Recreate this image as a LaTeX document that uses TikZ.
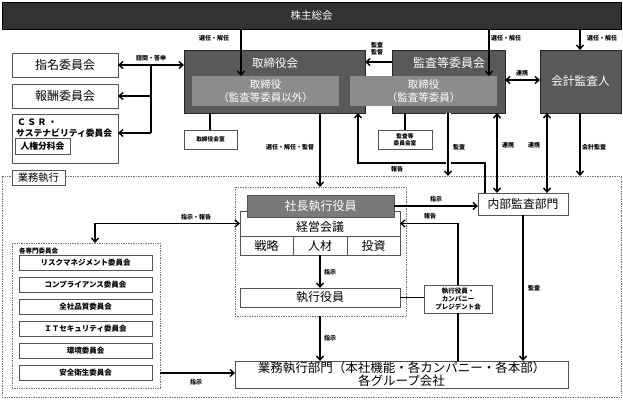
\documentclass[tikz,border=0pt]{standalone}
\usepackage{fontspec}
\setmainfont{Noto Sans CJK JP}
\usetikzlibrary{arrows.meta,calc}
\definecolor{topc}{HTML}{333333}
\definecolor{midc}{HTML}{595959}
\definecolor{ltc}{HTML}{8C8C8C}
\definecolor{prc}{HTML}{7A7A7A}
\definecolor{edgec}{HTML}{555555}
\begin{document}
\begin{tikzpicture}[x=1pt,y=-1pt,
  box/.style={draw=edgec, line width=0.8pt, fill=white, inner sep=0pt, outer sep=0pt, align=center, font=\fontsize{12}{14}\selectfont},
  dkbox/.style={draw=black!85, line width=0.8pt, fill=midc, inner sep=0pt, outer sep=0pt, align=center, text=white, font=\fontsize{12}{14}\selectfont},
  inbox/.style={draw=none, fill=ltc, inner sep=0pt, outer sep=0pt, align=center, text=white, font=\fontsize{10.5}{13}\selectfont},
  cbox/.style={box, font=\fontsize{7.5}{9}\selectfont\bfseries},
  dotbox/.style={draw=black!55, densely dotted, line width=0.7pt, inner sep=0pt, outer sep=0pt},
  conn/.style={line width=1.4pt, black},
  arr/.style={conn, -{Straight Barb[length=4pt,width=7pt]}},
  darr/.style={conn, {Straight Barb[length=4pt,width=7pt]}-{Straight Barb[length=4pt,width=7pt]}},
  lbl/.style={font=\fontsize{6}{7}\selectfont\bfseries, inner sep=0pt, align=center},
]
\useasboundingbox (0,0) rectangle (623,399);
% column / row helpers
\coordinate (c95) at (95,0);
\coordinate (c151) at (151,0);
\coordinate (c210) at (210,0);
\coordinate (c241) at (241,0);
\coordinate (c320) at (320,0);
\coordinate (c358) at (358,0);
\coordinate (c405) at (405,0);
\coordinate (c448) at (448,0);
\coordinate (c458) at (458,0);
\coordinate (c485) at (485,0);
\coordinate (c489) at (489,0);
\coordinate (c497) at (497,0);
\coordinate (c523) at (523,0);
\coordinate (c547) at (547,0);
\coordinate (c580) at (580,0);
\coordinate (r62) at (0,62);
\coordinate (r80) at (0,80);
\coordinate (r133) at (0,133);
\coordinate (r163) at (0,163);
\coordinate (r206) at (0,206);
\coordinate (r373) at (0,373);

% background regions
\node[dotbox, minimum width=619pt, minimum height=221pt] (exec) at (311.5,286.5) {};
\node[dotbox, minimum width=171pt, minimum height=129pt] (grp) at (320.5,251.5) {};
\node[dotbox, minimum width=148pt, minimum height=145pt] (cmte) at (86,315.5) {};
\node[box, fill=white, minimum width=53pt, minimum height=15pt, font=\fontsize{10.3}{12}\selectfont] (execT) at (38.5,177.5) {業務執行};
\node[lbl, anchor=west, font=\fontsize{6.5}{7}\selectfont\bfseries] (cmteT) at (19,251) {各専門委員会};

% top
\node[draw=black, line width=0.8pt, fill=topc, text=white, inner sep=0pt, outer sep=0pt, minimum width=619pt, minimum height=27pt, font=\fontsize{10.5}{12}\selectfont] (top) at (311.5,15.5) {株主総会};

% board
\node[dkbox, minimum width=181pt, minimum height=63pt] (board) at (274.5,81.5) {};
\node[text=white, inner sep=0pt, font=\fontsize{11.5}{13}\selectfont] (boardT) at (275,63) {取締役会};
\node[dkbox, minimum width=113pt, minimum height=63pt] (ac) at (448.5,81.5) {};
\node[text=white, inner sep=0pt, font=\fontsize{12}{13}\selectfont] (acT) at (449,62.5) {監査等委員会};
\node[inbox, minimum width=147pt, minimum height=30pt] (boardIn) at (265.5,91) {取締役\\（監査等委員以外）};
\node[inbox, minimum width=147pt, minimum height=30pt] (acIn) at (423.5,91) {取締役\\（監査等委員）};
\node[dkbox, minimum width=81pt, minimum height=63pt, font=\fontsize{11.7}{13}\selectfont] (auditor) at (580.5,81.5) {会計監査人};

% left committees
\node[box, minimum width=106pt, minimum height=24pt] (nom) at (65,65) {指名委員会};
\node[box, minimum width=106pt, minimum height=24pt] (rem) at (65,96) {報酬委員会};
\node[box, minimum width=106pt, minimum height=49pt] (csr) at (65,138.5) {};
\node[inner sep=0pt, anchor=west, font=\fontsize{8.8}{10}\selectfont\bfseries] (csr1) at (17,122) {Ｃ\,Ｓ\,Ｒ\,・};
\node[inner sep=0pt, anchor=west, font=\fontsize{8.8}{10}\selectfont\bfseries] (csr2) at (16,133) {サステナビリティ委員会};
\node[box, minimum width=55pt, minimum height=16pt, font=\fontsize{8.8}{10}\selectfont\bfseries] (hr) at (42.5,146) {人権分科会};

% rooms
\node[box, minimum width=53pt, minimum height=19pt, font=\fontsize{5.7}{7}\selectfont\bfseries] (boardRoom) at (210.5,139.5) {取締役会室};
\node[box, minimum width=54pt, minimum height=19pt, font=\fontsize{5.7}{7}\selectfont\bfseries] (acRoom) at (405,139.5) {監査等\\委員会室};

% internal audit
\node[box, minimum width=90pt, minimum height=22pt, font=\fontsize{11.8}{13}\selectfont] (ia) at (523,204) {内部監査部門};

% management group
\node[box, minimum width=160pt, minimum height=25pt] (mgmt) at (320,223.5) {};
\node[draw=edgec, line width=0.8pt, fill=prc, text=white, inner sep=0pt, outer sep=0pt, minimum width=147pt, minimum height=22pt, font=\fontsize{12}{14}\selectfont] (pres) at (320.5,206) {社長執行役員};
\node[inner sep=0pt, font=\fontsize{12}{14}\selectfont] (mgmtT) at (320,226.5) {経営会議};
\node[box, minimum width=53pt, minimum height=19pt] (s1) at (266.5,245.5) {戦略};
\node[box, minimum width=54pt, minimum height=19pt] (s2) at (320,245.5) {人材};
\node[box, minimum width=53pt, minimum height=19pt] (s3) at (373.5,245.5) {投資};
\node[box, minimum width=160pt, minimum height=19pt] (execOff) at (320,297.5) {執行役員};
\node[box, minimum width=68pt, minimum height=28pt, font=\fontsize{6.5}{8}\selectfont\bfseries] (cpm) at (458,299) {執行役員・\\カンパニー\\プレジデント会};

% operations
\node[box, minimum width=333pt, minimum height=27pt, font=\fontsize{12.5}{13}\selectfont] (ops) at (401.5,374.5) {業務執行部門（本社機能・各カンパニー・各本部）\\各グループ会社};

% specialist committees
\node[cbox, minimum width=133pt, minimum height=15pt] (k1) at (85.5,262.5) {リスクマネジメント委員会};
\node[cbox, minimum width=133pt, minimum height=15pt] (k2) at (85.5,284.5) {コンプライアンス委員会};
\node[cbox, minimum width=133pt, minimum height=15pt] (k3) at (85.5,306.5) {全社品質委員会};
\node[cbox, minimum width=133pt, minimum height=15pt] (k4) at (85.5,328.5) {ＩＴセキュリティ委員会};
\node[cbox, minimum width=133pt, minimum height=15pt] (k5) at (85.5,350.5) {環境委員会};
\node[cbox, minimum width=133pt, minimum height=15pt] (k6) at (85.5,372.5) {安全衛生委員会};

% connectors
\draw[arr] (top.south -| c241) -- (boardIn.north -| c241);
\draw[arr] (top.south -| c489) -- (acIn.north -| c489);
\draw[arr] (top.south -| c580) -- (auditor.north -| c580);
\draw[arr] (ac.west |- r62) -- (board.east |- r62);
\draw[darr] (ac.east |- r80) -- (auditor.west |- r80);
\draw[darr] (nom.east) -- (board.west |- nom.east);
\draw[conn] (nom.east -| c151) -- (c151 |- r133);
\draw[arr] (c151 |- rem.east) -- (rem.east);
\draw[arr] (c151 |- r133) -- (csr.east |- r133);
\draw[conn] (board.south -| c210) -- (boardRoom.north -| c210);
\draw[conn] (ac.south -| c405) -- (acRoom.north);
\draw[arr] (board.south -| c320) -- (grp.north -| c320);
\draw[arr] (ia.north -| c485) |- (c358 |- r163) -- (board.south -| c358);
\draw[white, line width=5pt, shorten >=8pt] (ac.south -| c448) -- (exec.north -| c448);
\draw[arr] (ac.south -| c448) -- (exec.north -| c448);
\draw[darr] (ia.north -| c497) -- (ac.south -| c497);
\draw[darr] (ia.north -| c547) -- (auditor.south -| c547);
\draw[arr] (auditor.south -| c580) -- (exec.north -| c580);
\draw[arr] (pres.east |- r206) -- (ia.west |- r206);
\draw[conn] (ops.north -| c458) -- (cpm.south);
\draw[arr] (cpm.north) |- (mgmt.east);
\draw[arr] (s2.south) -- (execOff.north);
\draw[conn] (execOff.east) -- (cpm.west |- execOff.east);
\draw[arr] (grp.south -| c320) -- (ops.north -| c320);
\draw[arr] (ia.south -| c523) -- (ops.north -| c523);
\draw[darr] (mgmt.west) -| (cmte.north -| c95);
\draw[arr] (cmte.east |- r373) -- (ops.west |- r373);

% labels
\node[lbl] (l1) at (214,38) {選任・解任};
\node[lbl] (l2) at (506,38) {選任・解任};
\node[lbl] (l3) at (602,38) {選任・解任};
\node[lbl] (l4) at (377,49) {監査\\監督};
\node[lbl] (l5) at (522,73) {連携};
\node[lbl] (l6) at (151,58) {諮問・答申};
\node[lbl] (l7) at (290,147) {選任・解任・監督};
\node[lbl] (l8) at (397,169) {報告};
\node[lbl] (l9) at (459,147) {監査};
\node[lbl] (l10) at (508,145) {連携};
\node[lbl] (l11) at (534,145) {連携};
\node[lbl] (l12) at (594,147) {会計監査};
\node[lbl] (l13) at (436,199) {指示};
\node[lbl] (l14) at (430,216) {報告};
\node[lbl] (l15) at (330,272) {指示};
\node[lbl] (l16) at (330,338) {指示};
\node[lbl] (l17) at (534,288) {監査};
\node[lbl] (l18) at (196,217) {指示・報告};
\node[lbl] (l19) at (196,382) {指示};
\end{tikzpicture}
\end{document}
